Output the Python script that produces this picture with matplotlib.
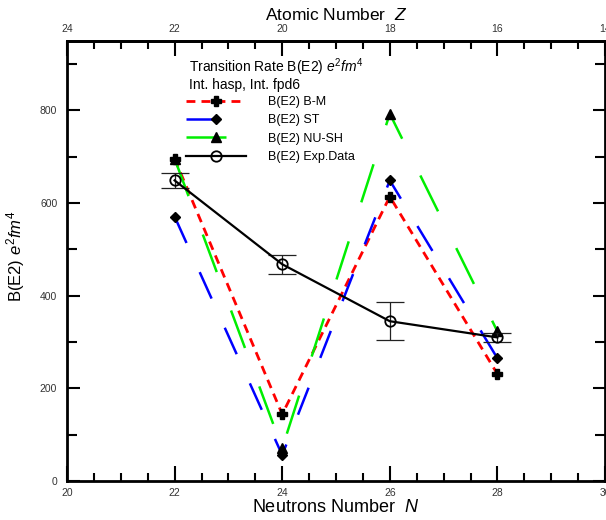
import matplotlib.pyplot as plt
from matplotlib.ticker import MultipleLocator

plt.rcParams['font.family'] = ['Liberation Sans', 'DejaVu Sans']
plt.rcParams['mathtext.fontset'] = 'custom'
plt.rcParams['mathtext.rm'] = 'Liberation Sans'
plt.rcParams['mathtext.it'] = 'Liberation Sans:italic'

# ── data ──────────────────────────────────────────────────────────────────────
neutrons = [22, 24, 26, 28]
be2_bm = [696, 144, 614, 231]
be2_st = [571, 56, 649, 265]
be2_nush = [696, 71, 793, 323]
be2_exp = [649, 468, 345, 310]
be2_exp_err = [16, 20, 41, 10]

top_ticks = [24, 22, 20, 18, 16, 14]

# ── figure ────────────────────────────────────────────────────────────────────
fig = plt.figure(figsize=(6.06, 5.2), dpi=100)
ax = fig.add_axes([67 / 606, 39 / 520, 538 / 606, 440 / 520])

l_bm, = ax.plot(neutrons, be2_bm, color="red", lw=2, ls=(0, (3.2, 2.2)),
                marker="P", ms=6.5, mfc="black", mec="black", label="B(E2) B-M")
l_st, = ax.plot(neutrons, be2_st, color="blue", lw=1.8, ls=(0, (11.6, 12.8)),
                marker="D", ms=5, mfc="black", mec="black", label="B(E2) ST")
l_nu, = ax.plot(neutrons, be2_nush, color="#00ee00", lw=1.8, ls=(0, (16, 16.4)),
                marker="^", ms=6.5, mfc="black", mec="black", label="B(E2) NU-SH")
ax.errorbar(neutrons, be2_exp, yerr=be2_exp_err, fmt="none", ecolor="#222222",
            elinewidth=0.9, capsize=10, capthick=0.9)
l_ex, = ax.plot(neutrons, be2_exp, color="black", lw=1.6,
                marker="o", ms=7.5, mfc="none", mec="black", mew=1.3,
                label="B(E2) Exp.Data")

ax.set_xlim(20, 30)
ax.set_ylim(0, 950)
ax.xaxis.set_major_locator(MultipleLocator(2))
ax.xaxis.set_minor_locator(MultipleLocator(0.5))
ax.yaxis.set_major_locator(MultipleLocator(200))
ax.yaxis.set_minor_locator(MultipleLocator(100))

for s in ax.spines.values():
    s.set_linewidth(2)
ax.tick_params(which="both", direction="in", top=False, right=True,
               labelsize=7.5, labelcolor="#333333", width=1.5)
ax.tick_params(axis="x", which="major", length=11, pad=5)
ax.tick_params(axis="x", which="minor", length=6)
ax.tick_params(axis="y", which="major", length=9, pad=7)
ax.tick_params(axis="y", which="minor", length=7)

ax.set_xlabel("Neutrons Number  $N$", fontsize=13, labelpad=1)
ax.set_ylabel("B(E2) $e^2fm^4$", fontsize=12)
ax.yaxis.set_label_coords(-40 / 538, 0.51)

# top axis: atomic number Z = 44 - N
top = ax.secondary_xaxis("top", functions=(lambda n: 44 - n, lambda z: 44 - z))
top.set_xticks(top_ticks)
top.xaxis.set_minor_locator(MultipleLocator(0.5))
top.tick_params(which="both", direction="in", labelsize=7.5,
                labelcolor="#333333", width=1.5)
top.tick_params(which="major", length=11, pad=5)
top.tick_params(which="minor", length=6)
top.spines["top"].set_linewidth(2)
top.set_xlabel("Atomic Number  $Z$", fontsize=12.5, labelpad=3)

# legend block
ax.text(122 / 538, (481 - 56) / 440, "Transition Rate B(E2) $e^2fm^4$\nInt. hasp, Int. fpd6",
        transform=ax.transAxes, fontsize=10, va="top", ha="left",
        linespacing=1.0)
ax.legend(handles=[l_bm, l_st, l_nu, l_ex], loc="upper left",
          bbox_to_anchor=(0.2, (481 - 85) / 440), frameon=False, fontsize=9,
          handlelength=4.8, handletextpad=1.75, labelspacing=0.5,
          numpoints=1)

fig.savefig("out.png", dpi=100)
